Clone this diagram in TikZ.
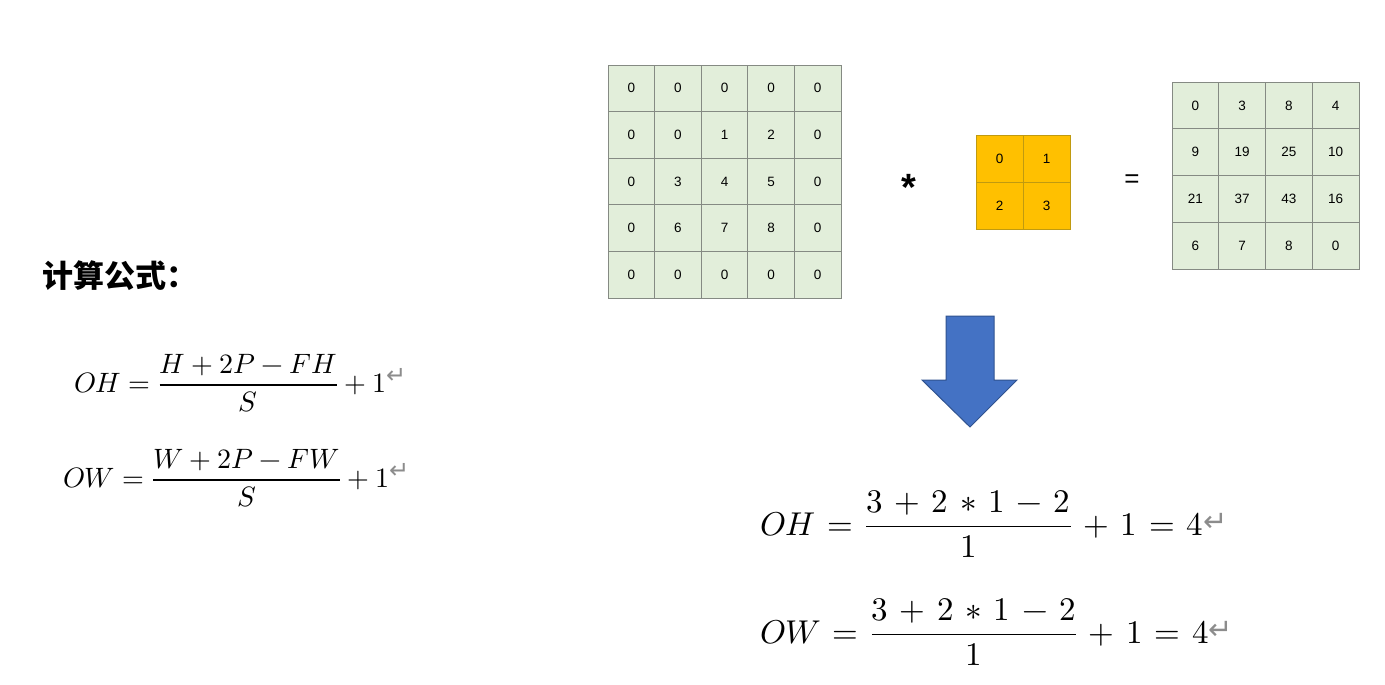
\documentclass[tikz,border=0pt]{standalone}
\usepackage{amsmath}
\usepackage{fontspec}
\usepackage{unicode-math}
\setmathfont{Latin Modern Math}
\newfontfamily\cjk{Noto Sans CJK SC}
\newfontfamily\arial{Liberation Sans}
\newfontfamily\djv{DejaVu Sans}
\definecolor{cellgreen}{HTML}{E2EEDA}
\definecolor{cellborder}{HTML}{858A83}
\definecolor{kfill}{HTML}{FFC000}
\definecolor{kborder}{HTML}{C09A10}
\definecolor{arrowblue}{HTML}{4472C4}
\definecolor{arrowedge}{HTML}{2F528F}
\definecolor{retgray}{HTML}{8C8C8C}
\newcommand{\ret}[2]{\raisebox{#1}{\color{retgray}\djv\fontsize{#2}{#2}\selectfont ↵}}
\tikzset{
  cellfont/.style={font=\arial\fontsize{13.5}{15}\selectfont},
  gcell/.style={draw=cellborder, fill=cellgreen, line width=0.8pt, minimum size=46.6pt, inner sep=0pt, cellfont},
  kcell/.style={draw=kborder, fill=kfill, line width=0.8pt, minimum size=47pt, inner sep=0pt, cellfont},
  ocell/.style={draw=cellborder, fill=cellgreen, line width=0.8pt, minimum size=46.75pt, inner sep=0pt, cellfont},
  formL/.style={anchor=base west, inner sep=0pt, font=\fontsize{28}{32}\selectfont},
  formR/.style={anchor=base west, inner sep=0pt, font=\fontsize{33}{38}\selectfont},
}
\begin{document}
\begin{tikzpicture}[x=1pt,y=-1pt]
\fill[white] (0,0) rectangle (1385,685);
\useasboundingbox (0,0) rectangle (1385,685);

% input grid
\foreach \rowvals [count=\r] in {{0,0,0,0,0},{0,0,1,2,0},{0,3,4,5,0},{0,6,7,8,0},{0,0,0,0,0}}{
  \foreach \v [count=\c] in \rowvals {
    \node[gcell] (in-\r-\c) at ({608+46.6*(\c-0.5)},{65+46.6*(\r-0.5)}) {\v};
  }
}
% kernel
\foreach \rowvals [count=\r] in {{0,1},{2,3}}{
  \foreach \v [count=\c] in \rowvals {
    \node[kcell] (k-\r-\c) at ({976+47*(\c-0.5)},{135+47*(\r-0.5)}) {\v};
  }
}
% output grid
\foreach \rowvals [count=\r] in {{0,3,8,4},{9,19,25,10},{21,37,43,16},{6,7,8,0}}{
  \foreach \v [count=\c] in \rowvals {
    \node[ocell] (out-\r-\c) at ({1172+46.75*(\c-0.5)},{82+46.75*(\r-0.5)}) {\v};
  }
}
\node[font=\arial\bfseries\fontsize{38}{40}\selectfont, inner sep=0pt] (star) at (909,187) {*};
\node[font=\arial\fontsize{26}{28}\selectfont, inner sep=0pt] (eq) at (1132,181) {=};

% big arrow
\draw[fill=arrowblue, draw=arrowedge, line width=1pt, line join=miter]
  (946,316) -- (994,316) -- (994,380) -- (1017,380) -- (970,427) -- (922,380) -- (946,380) -- cycle;

% title
\node[anchor=base west, inner sep=0pt, font=\cjk\bfseries\fontsize{31}{34}\selectfont] (title) at (42,287) {计算公式：};

% left formulas
\node[formL] (fOH) at (74,392) {$OH=\dfrac{H+2P-FH}{S}+1$\ret{9pt}{24}};
\node[formL] (fOW) at (63,487) {$OW=\dfrac{W+2P-FW}{S}+1$\ret{9pt}{24}};

% right formulas
\node[formR] (rOH) at (760,535) {\medmuskip=6.4mu plus 2mu minus 4mu\thickmuskip=6.5mu plus 5mu$OH=\dfrac{3+2\ast1-2}{1}+1=4$\ret{4pt}{29}};
\node[formR] (rOW) at (760,643) {\medmuskip=6.4mu plus 2mu minus 4mu\thickmuskip=6.5mu plus 5mu$OW=\dfrac{3+2\ast1-2}{1}+1=4$\ret{4pt}{29}};
\end{tikzpicture}
\end{document}
